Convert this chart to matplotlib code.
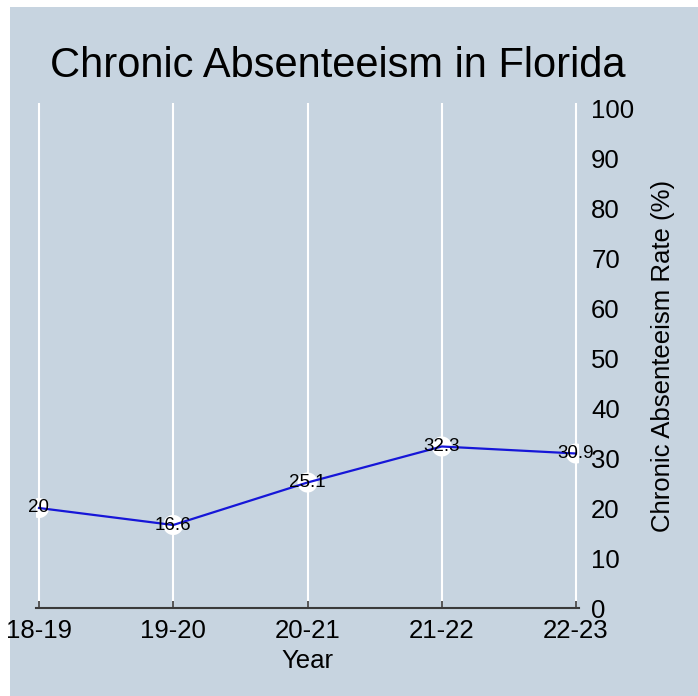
import matplotlib
matplotlib.use("Agg")
import matplotlib.pyplot as plt
from matplotlib.patches import Rectangle

years = ["18-19", "19-20", "20-21", "21-22", "22-23"]
rates = [20, 16.6, 25.1, 32.3, 30.9]
yticks = [0, 10, 20, 30, 40, 50, 60, 70, 80, 90, 100]

plt.rcParams['font.family'] = ['Liberation Sans', 'DejaVu Sans']
W, H = 698, 696
fig = plt.figure(figsize=(W/100, H/100), dpi=100)
fig.patch.set_facecolor("white")
bg = "#c7d4e0"
fig.patches.append(Rectangle((10/W, 0), 1 - 10/W, (H-7)/H, transform=fig.transFigure,
                             facecolor=bg, edgecolor="none", zorder=-5))

x0, x1 = 36.3, 578.7
ybot, ytop = 608, 103
ax = fig.add_axes([x0/W, (H-ybot)/H, (x1-x0)/W, (ybot-ytop)/H])
ax.patch.set_visible(False)
xs = list(range(len(years)))
ax.set_xlim(-0.02, 4.02)
ax.set_ylim(0, 101)

for x in xs:
    ax.axvline(x, color="white", lw=1.5, zorder=1)

ax.scatter(xs, rates, s=210, color="white", zorder=2, edgecolors="none")
ax.plot(xs, rates, color="#1616d8", lw=1.6, zorder=3)
for x, v in zip(xs, rates):
    ax.text(x, v, f"{v:g}", ha="center", va="center", fontsize=13.5, color="black", zorder=4)

for s in ["left", "right", "top"]:
    ax.spines[s].set_visible(False)
ax.spines["bottom"].set_color("#3a3a3a")
ax.spines["bottom"].set_linewidth(1.5)

ax.set_xticks(xs)
ax.set_xticklabels(years, fontsize=18.5)
ax.tick_params(axis="x", direction="in", length=5, width=1.2, color="#3a3a3a", pad=8)
ax.yaxis.tick_right()
ax.yaxis.set_label_position("right")
ax.set_yticks(yticks)
ax.set_yticklabels([str(t) for t in yticks], fontsize=18.5)
ax.tick_params(axis="y", length=0, pad=9)
ax.set_xlabel("Year", fontsize=18.5, labelpad=4)
ax.set_ylabel("Chronic Absenteeism Rate (%)", fontsize=18.5, labelpad=12)

fig.text(337.5/W, 1 - 66/H, "Chronic Absenteeism in Florida", ha="center", va="center",
         fontsize=30, color="black")

fig.savefig("out.png", dpi=100, facecolor=fig.get_facecolor())
